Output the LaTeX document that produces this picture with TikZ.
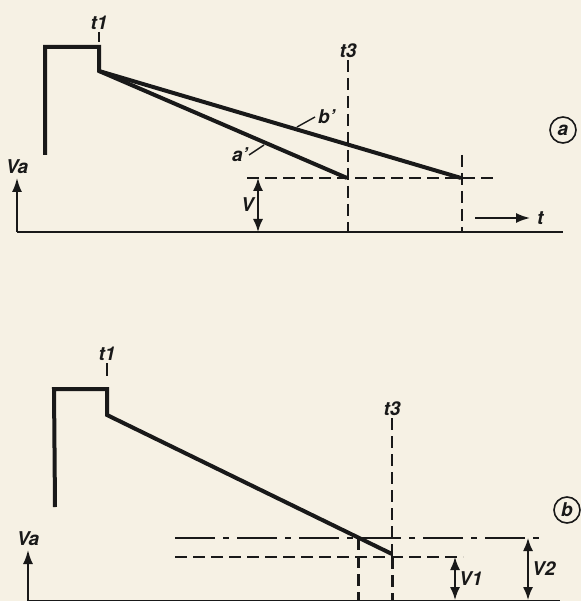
\documentclass[tikz,border=0pt]{standalone}
\usepackage{fontspec}
\setmainfont{TeX Gyre Heros}
\usetikzlibrary{arrows.meta,positioning,calc}
\definecolor{paper}{RGB}{246,241,228}
\definecolor{ink}{RGB}{25,25,25}

\begin{document}
\begin{tikzpicture}[x=1pt,y=-1pt,
  every node/.style={font=\fontsize{19}{19}\selectfont\bfseries\itshape,text=ink,inner sep=1pt},
  pulse/.style={draw=ink,line width=4pt,line join=miter},
  axis/.style={draw=ink,line width=2pt},
  guide/.style={draw=ink,line width=1.8pt,dash pattern=on 12pt off 6pt},
  thickguide/.style={draw=ink,line width=3pt,dash pattern=on 12pt off 6pt},
  guidedot/.style={draw=ink,line width=1.8pt,dash pattern=on 40pt off 8pt on 6pt off 8pt},
  arr/.style={draw=ink,line width=1.8pt,-{Latex[length=14pt,width=10pt]}},
  dim/.style={draw=ink,line width=1.6pt,{Latex[length=13pt,width=10pt]}-{Latex[length=13pt,width=10pt]}},
  tag/.style={draw=ink,circle,line width=1.6pt,minimum size=26pt,inner sep=0pt}]
\fill[paper] (0,0) rectangle (581,601);
\useasboundingbox (0,0) rectangle (581,601);

% --- a ---
\coordinate (a0) at (45,155);
\coordinate (a1) at (45,47);
\coordinate (a2) at (99,47);
\coordinate (a3) at (99,71);
\coordinate (aA) at (347,178);
\coordinate (aB) at (461,178);
\draw[pulse] (a0) -- (a1) -- (a2) -- (a3) -- (aA);
\draw[pulse] (a3) -- (aB);

\coordinate (at1a) at (99,32);
\coordinate (at1b) at (99,42);
\draw[draw=ink,line width=1.5pt] (at1a) -- (at1b);
\node[above=1pt of at1a] (at1) {t1};

\coordinate (at3a) at (348,60);
\coordinate (at3b) at (348,232);
\draw[guide] (at3a) -- (at3b);
\node[above=1pt of at3a] (at3) {t3};

\coordinate (abv1) at (462,155);
\coordinate (abv2) at (462,232);
\draw[guide] (abv1) -- (abv2);
\coordinate (ah1) at (247,178);
\coordinate (ah2) at (498,178);
\draw[guide] (ah1) -- (ah2);

\coordinate (ax0) at (17,232);
\coordinate (ax1) at (563,232);
\coordinate (ava) at (17,178);
\draw[axis] (ax0) -- (ax1);
\draw[arr] (ax0) -- (ava);
\node[above=3pt of ava] (ava_lab) {Va};

\coordinate (av1) at (258,178);
\coordinate (av2) at (258,232);
\draw[dim] (av1) -- (av2);
\node[left=3pt of $(av1)!0.5!(av2)$] (av_lab) {V};

\coordinate (alA1) at (249,155);
\coordinate (alA2) at (264,145);
\draw[draw=ink,line width=1.4pt] (alA1) -- (alA2);
\node[left=0pt of alA1] (alA) {a'};
\coordinate (alB1) at (297,127);
\coordinate (alB2) at (315,117);
\draw[draw=ink,line width=1.4pt] (alB1) -- (alB2);
\node[right=2pt of alB2] (alB) {b'};

\coordinate (at0) at (475,218);
\coordinate (at1e) at (530,218);
\draw[arr] (at0) -- (at1e);
\node[right=6pt of at1e] (atlab) {t};

\node[tag] (taga) at (563,130) {a};

% --- b ---
\coordinate (b0) at (55,507);
\coordinate (b1) at (54,389);
\coordinate (b2) at (107,389);
\coordinate (b3) at (107,415);
\coordinate (bE) at (392,554);
\draw[pulse] (b0) -- (b1) -- (b2) -- (b3) -- (bE);

\coordinate (bt1a) at (107,363);
\coordinate (bt1b) at (107,376);
\draw[draw=ink,line width=1.5pt] (bt1a) -- (bt1b);
\node[above=1pt of bt1a] (bt1) {t1};

\coordinate (bt3a) at (392,418);
\coordinate (bt3m) at (392,557);
\coordinate (bt3b) at (392,605);
\draw[guide] (bt3a) -- (bt3m);
\draw[thickguide] (bt3m) -- (bt3b);
\node[above=1pt of bt3a] (bt3) {t3};

\coordinate (bh1a) at (175,538);
\coordinate (bh1b) at (540,538);
\draw[guidedot] (bh1a) -- (bh1b);
\coordinate (bh2a) at (175,557);
\coordinate (bh2b) at (463,557);
\draw[guide] (bh2a) -- (bh2b);

\coordinate (bx1a) at (358,538);
\coordinate (bx1b) at (358,605);
\draw[thickguide] (bx1a) -- (bx1b);

\coordinate (bv1a) at (455,557);
\coordinate (bv1b) at (455,600);
\draw[dim] (bv1a) -- (bv1b);
\node[right=3pt of $(bv1a)!0.5!(bv1b)$] (bv1) {V1};
\coordinate (bv2a) at (528,538);
\coordinate (bv2b) at (528,600);
\draw[dim] (bv2a) -- (bv2b);
\node[right=3pt of $(bv2a)!0.5!(bv2b)$] (bv2) {V2};

\coordinate (bx0) at (28,601);
\coordinate (bx1) at (560,601);
\coordinate (bva) at (28,550);
\draw[axis] (bx0) -- (bx1);
\draw[arr] (bx0) -- (bva);
\node[above=3pt of bva] (bva_lab) {Va};

\node[tag] (tagb) at (567,510) {b};
\end{tikzpicture}
\end{document}
